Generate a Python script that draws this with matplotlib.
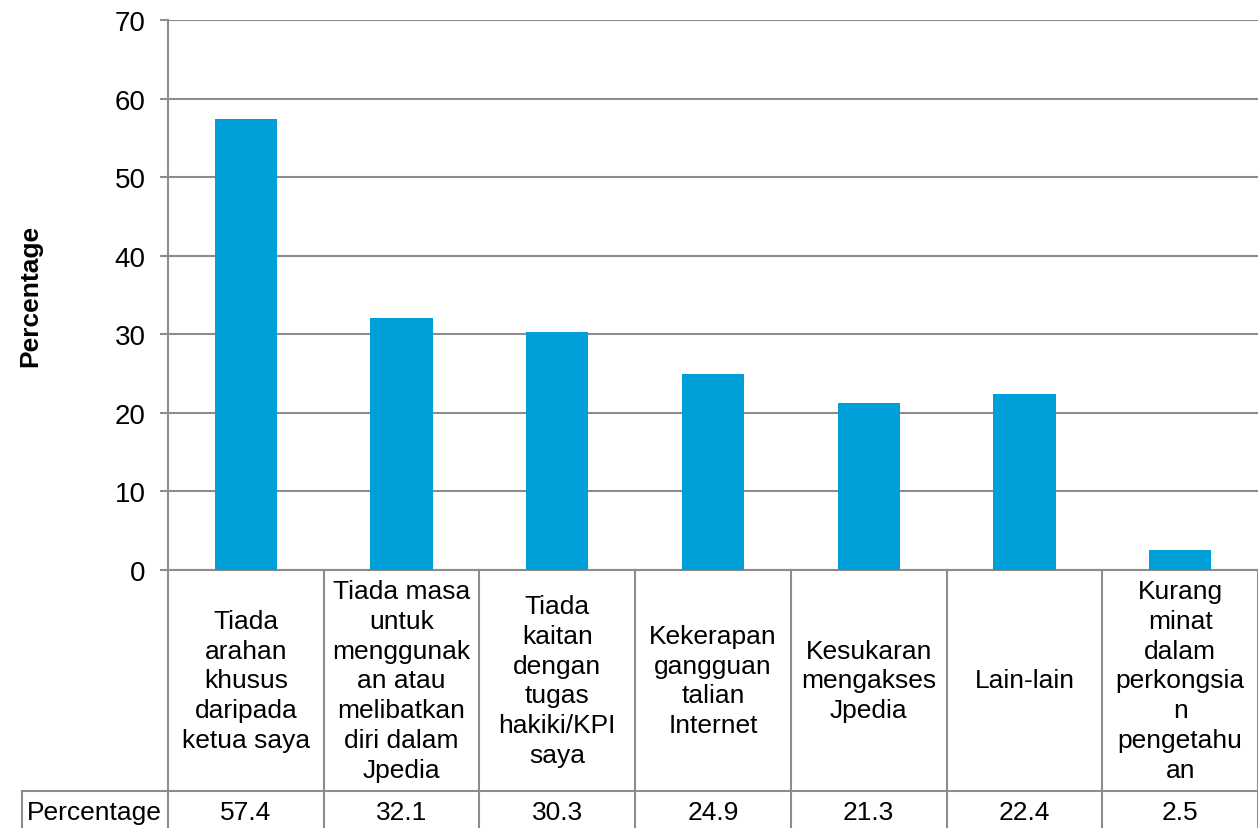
import numpy as np
import matplotlib
matplotlib.use("Agg")
from matplotlib import pyplot as plt

plt.rcParams['font.family'] = ['Liberation Sans', 'DejaVu Sans']

# data
categories = ['Tiada\narahan\nkhusus\ndaripada\nketua saya',
              'Tiada masa\nuntuk\nmenggunak\nan atau\nmelibatkan\ndiri dalam\nJpedia',
              'Tiada\nkaitan\ndengan\ntugas\nhakiki/KPI\nsaya',
              'Kekerapan\ngangguan\ntalian\nInternet',
              'Kesukaran\nmengakses\nJpedia',
              'Lain-lain',
              'Kurang\nminat\ndalam\nperkongsia\nn\npengetahu\nan']
values = [57.4, 32.1, 30.3, 24.9, 21.3, 22.4, 2.5]
series_name = 'Percentage'
yticks = [0, 10, 20, 30, 40, 50, 60, 70]

bar_col = '#009FD9'
line_col = '#8C8C8C'
fs = 19

W, H = 1258, 829
fig = plt.figure(figsize=(W / 100, H / 100), dpi=100)

ax_left = 168 / W
ax_top = 1 - 21 / H
ax_bot = 1 - 571 / H
ax = fig.add_axes([ax_left, ax_bot, 1 - ax_left, ax_top - ax_bot])

x = np.arange(len(values))
ax.bar(x, values, width=0.4, color=bar_col, zorder=3)
ax.set_xlim(-0.5, len(values) - 0.5)
ax.set_ylim(0, 70)
ax.set_yticks(yticks)
ax.yaxis.grid(True, color=line_col, linewidth=1.5, zorder=0)
ax.set_xticks([])
for s in ['top', 'right']:
    ax.spines[s].set_visible(False)
for s in ['left', 'bottom']:
    ax.spines[s].set_color(line_col)
    ax.spines[s].set_linewidth(1.5)
ax.tick_params(axis='y', length=6, width=1.5, color=line_col, labelsize=20, pad=10)
ax.set_ylabel('Percentage', fontsize=fs, fontweight='bold', labelpad=52)

# data table under the chart
tab = fig.add_axes([ax_left, 0, 1 - ax_left, ax_bot], sharex=ax)
tab.set_ylim(0, 1)
tab.axis('off')
split = (H - 792) / (H - 571)
left_w = 146 / ((W - 168) / len(values))
x0 = -0.5 - left_w
kw = dict(color=line_col, linewidth=1.5, clip_on=False)
for b in np.arange(len(values) + 1) - 0.5:
    tab.plot([b, b], [0, 1], **kw)
tab.plot([x0, len(values) - 0.5], [split, split], **kw)
tab.plot([x0, x0], [0, split], **kw)
for i, (c, v) in enumerate(zip(categories, values)):
    tab.text(i, (1 + split) / 2, c, ha='center', va='center', fontsize=fs,
             linespacing=1.3)
    tab.text(i, split / 2 - 0.01, f'{v:.1f}', ha='center', va='center', fontsize=fs)
tab.text(x0 + 0.03, split / 2 - 0.01, series_name, ha='left', va='center',
         fontsize=fs, clip_on=False)

fig.savefig('out.png', dpi=100)
